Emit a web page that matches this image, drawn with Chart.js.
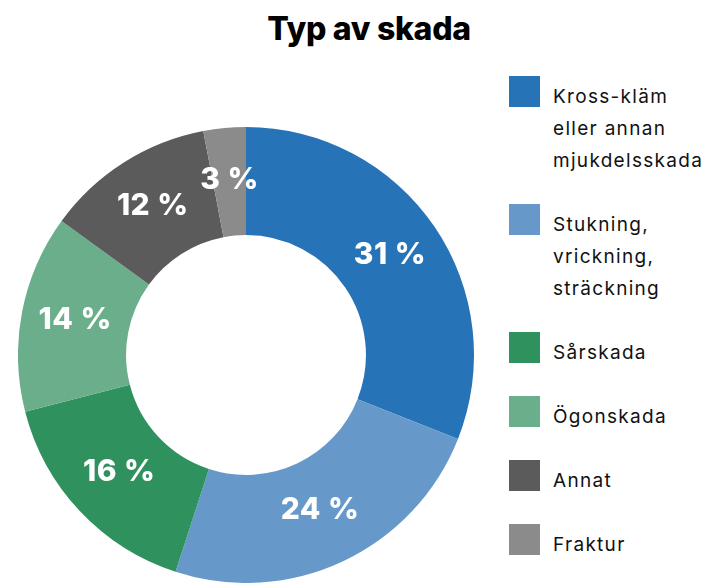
<!DOCTYPE html>
<html>
<head>
<meta charset="utf-8">
<script src="https://cdn.jsdelivr.net/npm/chart.js@4.4.1/dist/chart.umd.min.js"></script>
<style>
body { margin: 0; background: #fff; width: 715px; height: 583px; overflow: hidden; position: relative; font-family: Inter, "Noto Sans", sans-serif; }
#title { position: absolute; left: 0; width: 738px; top: 9px; text-align: center; font-size: 32px; font-weight: 800; letter-spacing: -0.3px; color: #000; }
#wrap { position: absolute; left: 18px; top: 127px; width: 456px; height: 456px; }
#legend { position: absolute; left: 509px; top: 76px; }
.item { display: flex; align-items: flex-start; margin-bottom: 27px; }
.box { width: 31px; height: 31px; flex: none; }
.txt { margin-left: 13px; font-size: 19px; line-height: 32px; letter-spacing: 1.3px; color: #111; margin-top: 5px; white-space: nowrap; }
</style>
</head>
<body>
<div id="title">Typ av skada</div>
<div id="wrap"><canvas id="skada" width="456" height="456"></canvas></div>
<div id="legend"></div>
<script>
// data
var labels = [["Kross-kläm", "eller annan", "mjukdelsskada"], ["Stukning,", "vrickning,", "sträckning"], ["Sårskada"], ["Ögonskada"], ["Annat"], ["Fraktur"]];
var values = [31, 24, 16, 14, 12, 3];
var colors = ["#2673b8", "#6699c9", "#2f915d", "#6bae8b", "#5b5b5b", "#8b8b8b"];

// html legend
var html = '';
for (var i = 0; i < labels.length; i++) {
	html += '<div class="item"><div class="box" style="background:' + colors[i] + '"></div><div class="txt">' + labels[i].join('<br>') + '</div></div>';
}
document.getElementById('legend').innerHTML = html;

var pctLabels = {
	id: 'pctLabels',
	afterDatasetsDraw: function (chart) {
		var ctx = chart.ctx;
		var meta = chart.getDatasetMeta(0);
		ctx.save();
		ctx.fillStyle = '#fff';
		ctx.font = '800 30px Inter, "Noto Sans", sans-serif';
		ctx.textAlign = 'center';
		ctx.textBaseline = 'middle';
		if ('letterSpacing' in ctx) ctx.letterSpacing = '0.5px';
		meta.data.forEach(function (arc, i) {
			var p = arc.tooltipPosition();
			ctx.fillText(values[i] + ' %', p.x, p.y - 2);
		});
		ctx.restore();
	}
};

var ctx = document.getElementById('skada').getContext('2d');
var myChart = new Chart(ctx, {
	type: 'doughnut',
	data: {
		labels: labels.map(function (l) { return l.join(' '); }),
		datasets: [{
			data: values,
			backgroundColor: colors,
			borderWidth: 0
		}]
	},
	options: {
		responsive: false,
		maintainAspectRatio: false,
		animation: false,
		cutout: '52.6%',
		layout: { padding: 0 },
		plugins: {
			legend: { display: false },
			tooltip: { enabled: false }
		}
	},
	plugins: [pctLabels]
});
</script>
</body>
</html>
